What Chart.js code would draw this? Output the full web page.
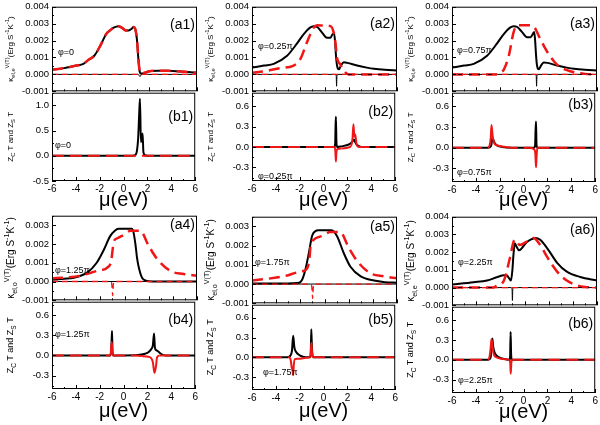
<!DOCTYPE html>
<html>
<head>
<meta charset="utf-8">
<script src="https://cdn.jsdelivr.net/npm/chart.js@4.4.0/dist/chart.umd.min.js"></script>
<style>
body { margin: 0; background: #fff; }
#fig { position: relative; width: 600px; height: 425px; overflow: hidden; }
#fig canvas { position: absolute; }
</style>
</head>
<body>
<div id="fig"></div>
<script>
// ---- ticks ----
const xTicks = [-6, -4, -2, 0, 2, 4, 6];
const kTicks = [-0.001, 0, 0.001, 0.002, 0.003, 0.004];
const kTicksShort = [-0.001, 0, 0.001, 0.002, 0.003];
const zTicks = [-0.3, 0, 0.3, 0.6];
const zTicksB1 = [-0.5, 0, 0.5, 1.0];

const zeroX = [-6, 6];
const zeroY = [0, 0];

// ---- (a) kappa panels ----
const a1X = [-6, -5, -4, -3.4, -3, -2.5, -2, -1.5, -1.2, -0.9, -0.5, -0.2, 0.1, 0.35, 0.6, 0.75, 0.88, 0.97, 1.05, 1.15, 1.25, 1.35, 1.5, 1.8, 2.2, 2.8, 3.4, 4, 5, 6];
const a1Black = [0.00027, 0.00037, 0.00052, 0.00062, 0.00085, 0.0011, 0.0017, 0.0024, 0.0026, 0.00276, 0.00285, 0.00275, 0.0026, 0.0026, 0.0027, 0.0028, 0.0027, 0.0024, 0.0019, 0.0009, 0.0002, 0.00005, 0.00006, 0.00013, 0.0002, 0.00022, 0.00021, 0.0002, 0.00015, 0.0001];
const a1Red = a1Black;
const a1ThinX = [-6, 1.1, 1.2, 1.28, 1.36, 1.45, 6];
const a1ThinY = [0, 0, -0.00005, -0.00013, -0.00005, 0, 0];

const a2BlackX = [-6, -5, -4.2, -3.1, -2.3, -1.7, -1.2, -0.9, -0.6, -0.2, 0.2, 0.5, 0.7, 0.8, 0.88, 0.95, 1.02, 1.1, 1.2, 1.35, 1.6, 1.9, 2.7, 3.5, 4.1, 5, 6];
const a2BlackY = [0.0004, 0.00052, 0.00062, 0.0011, 0.0018, 0.0024, 0.00276, 0.00285, 0.0028, 0.00247, 0.00217, 0.00217, 0.0024, 0.0024, 0.0019, 0.0011, 0.0006, 0.00035, 0.0003, 0.0005, 0.00072, 0.00068, 0.00052, 0.0004, 0.00033, 0.00027, 0.00023];
const a2RedX = [-6, -4.8, -3.7, -2.6, -2, -1.45, -0.9, -0.6, 0, 0.5, 0.75, 0.9, 1.03, 1.3, 1.6, 2.0, 6];
const a2RedY = [0.0001, 0.0002, 0.00037, 0.0005, 0.0009, 0.0019, 0.00276, 0.0029, 0.00288, 0.00285, 0.0025, 0.0019, 0.001, 0.0006, 0.00023, 0, 0];
const a2ThinX = [-6, 0.9, 0.97, 1.0, 1.03, 1.1, 6];
const a2ThinY = [0, 0, -0.0001, -0.0007, -0.0001, 0, 0];

const a3BlackX = [-6, -5, -4.2, -3.1, -2.3, -1.7, -1.2, -0.9, -0.6, -0.2, 0.2, 0.5, 0.7, 0.8, 0.88, 0.95, 1.02, 1.1, 1.2, 1.35, 1.6, 1.9, 2.7, 3.5, 4.1, 5, 6];
const a3BlackY = [0.0004, 0.00052, 0.00062, 0.0011, 0.0018, 0.0024, 0.00276, 0.00285, 0.0028, 0.0025, 0.0022, 0.0022, 0.0024, 0.0025, 0.002, 0.0012, 0.0006, 0.00035, 0.0003, 0.0005, 0.0007, 0.00068, 0.00052, 0.0004, 0.00033, 0.00027, 0.00023];
const a3RedX = [-6, -2.3, -2.0, -1.7, -1.3, -0.9, -0.6, 0, 0.5, 0.8, 1.3, 2.0, 2.8, 3.5, 4.3, 5, 6];
const a3RedY = [0, 0, 0.0001, 0.0003, 0.0011, 0.0025, 0.0029, 0.0029, 0.0029, 0.0028, 0.0021, 0.0012, 0.0005, 0.00025, 0.0001, 0.00003, 0];
const a3ThinX = [-6, 0.9, 0.97, 1.0, 1.03, 1.1, 6];
const a3ThinY = [0, 0, -0.0001, -0.0007, -0.0001, 0, 0];

const a4BlackX = [-6, -5, -4.2, -3.1, -2.3, -1.7, -1.2, -0.8, -0.5, 0, 0.6, 0.75, 0.9, 1.05, 1.2, 1.45, 1.8, 2.3, 6];
const a4BlackY = [0.00009, 0.00015, 0.0002, 0.00047, 0.001, 0.0017, 0.0024, 0.0027, 0.0028, 0.0028, 0.0028, 0.0026, 0.002, 0.0012, 0.0007, 0.0002, 0.00004, 0, 0];
const a4RedX = [-6, -3.7, -2.3, -1.3, -1.1, -1.0, -0.9, -0.6, 0, 0.5, 1.3, 2.0, 2.7, 3.8, 4.9, 6];
const a4RedY = [0.00016, 0.0003, 0.00056, 0.0008, 0.0011, 0.0016, 0.0021, 0.0023, 0.0025, 0.0027, 0.0027, 0.0019, 0.0012, 0.00056, 0.0004, 0.0003];
const a4ThinX = [-6, -1.1, -1.03, -0.98, -0.93, -0.85, 6];
const a4ThinY = [0, 0, -0.0003, -0.00075, -0.0002, 0, 0];

const a5BlackX = [-6, -3, -2.3, -2, -1.8, -1.6, -1.3, -1.03, -0.76, -0.5, 0.6, 1.03, 1.6, 2.15, 3, 4.1, 5, 6];
const a5BlackY = [0.00003, 0.00003, 0.00005, 0.0001, 0.0003, 0.0007, 0.0016, 0.0025, 0.00275, 0.0028, 0.0028, 0.0025, 0.0016, 0.0009, 0.0004, 0.00018, 0.0001, 0.00007];
const a5RedX = [-6, -3.4, -2, -1.45, -1.25, -1.15, -0.9, -0.2, 0.5, 1.3, 2, 2.7, 3.8, 4.9, 6];
const a5RedY = [0.00018, 0.0004, 0.00065, 0.0008, 0.0013, 0.002, 0.0023, 0.0025, 0.0027, 0.0027, 0.0019, 0.0012, 0.00056, 0.0004, 0.0003];
const a5ThinX = [-6, -1.1, -1.03, -0.98, -0.93, -0.85, 6];
const a5ThinY = [0, 0, -0.0003, -0.00075, -0.0002, 0, 0];

const a6BlackX = [-6, -4.2, -3.1, -2.3, -1.7, -1.45, -1.25, -1.12, -1.0, -0.92, -0.8, -0.65, -0.45, -0.25, 0.1, 0.5, 0.9, 1.3, 1.9, 2.7, 3.5, 4.6, 6];
const a6BlackY = [0.00017, 0.0003, 0.0004, 0.00058, 0.0007, 0.00068, 0.0005, 0.0004, 0.001, 0.0018, 0.0025, 0.0023, 0.0021, 0.0022, 0.0025, 0.0027, 0.0028, 0.0027, 0.0022, 0.0014, 0.0009, 0.0006, 0.0004];
const a6RedX = [-6, -2.6, -2.3, -1.7, -1.2, -0.9, -0.75, -0.4, 0.2, 0.75, 1.3, 1.9, 2.7, 3.5, 4.35, 5, 6];
const a6RedY = [0, 0, 0.0001, 0.0004, 0.0017, 0.0026, 0.0027, 0.0024, 0.0026, 0.0028, 0.0024, 0.0017, 0.0009, 0.0004, 0.00013, 0.00004, 0];
const a6ThinX = [-6, -1.1, -1.03, -1.0, -0.97, -0.9, 6];
const a6ThinY = [0, 0, -0.0001, -0.00073, -0.0001, 0, 0];

// ---- (b) ZcT / ZsT panels ----
const b1BlackX = [-6, 0.75, 1.0, 1.12, 1.22, 1.3, 1.37, 1.45, 1.52, 1.59, 1.66, 1.8, 2.0, 6];
const b1BlackY = [0, 0, 0.02, 0.1, 0.35, 0.8, 1.13, 0.27, 0.34, 0.44, 0.07, 0.01, 0, 0];
const b1RedX = [-6, 6];
const b1RedY = [0, 0];

const b2BlackX = [-6, 0.9, 0.97, 1.0, 1.03, 1.07, 1.12, 1.5, 2.0, 2.3, 2.45, 2.55, 2.65, 2.8, 3.0, 3.3, 6];
const b2BlackY = [0, 0, 0.05, 0.3, 0.445, 0.1, 0, 0.01, 0.03, 0.06, 0.09, 0.11, 0.07, 0.03, 0.01, 0, 0];
const b2RedX = [-6, 0.9, 0.98, 1.03, 1.07, 1.15, 1.5, 2.0, 2.3, 2.42, 2.5, 2.58, 2.65, 2.75, 2.85, 3.0, 6];
const b2RedY = [0, 0, -0.05, -0.215, -0.08, -0.03, -0.02, -0.01, 0.02, 0.12, 0.335, 0.15, 0.185, 0.05, 0.01, 0, 0];

const b3BlackX = [-6, -3.0, -2.8, -2.7, -2.62, -2.55, -2.4, -2.2, -1.8, -1, 0.9, 0.97, 1.0, 1.04, 1.08, 1.15, 6];
const b3BlackY = [0, 0, 0.01, 0.04, 0.14, 0.12, 0.06, 0.03, 0.01, 0, 0, 0.05, 0.25, 0.38, 0.05, 0, 0];
const b3RedX = [-6, -3.0, -2.85, -2.75, -2.69, -2.6, -2.5, -2.3, -2.0, -1.5, -1, 0.5, 0.9, 0.98, 1.04, 1.08, 1.15, 6];
const b3RedY = [0, 0, 0.03, 0.15, 0.33, 0.18, 0.08, 0.04, 0.025, 0.01, 0, 0, -0.03, -0.08, -0.285, -0.15, 0, 0];

const b4BlackX = [-6, -1.15, -1.06, -1.01, -0.97, -0.93, -0.85, 0, 1.2, 1.8, 2.1, 2.3, 2.45, 2.55, 2.62, 2.72, 2.85, 3.2, 3.5, 6];
const b4BlackY = [0, 0, 0.03, 0.2, 0.365, 0.05, 0, 0, 0.005, 0.025, 0.05, 0.09, 0.15, 0.325, 0.12, 0.08, 0.065, 0.015, 0, 0];
const b4RedX = [-6, -1.1, -1.0, -0.95, -0.9, 1.0, 1.5, 2.2, 2.45, 2.58, 2.65, 2.72, 2.8, 3.0, 6];
const b4RedY = [0, 0, 0.2, 0.1, 0, 0, -0.01, -0.025, -0.1, -0.26, -0.22, -0.15, -0.03, 0, 0];

const b5BlackX = [-6, -3.0, -2.8, -2.65, -2.55, -2.45, -2.3, -2.1, -1.8, -1.5, -1.15, -1.08, -1.03, -0.98, -0.92, -0.85, 6];
const b5BlackY = [0, 0, 0.02, 0.1, 0.325, 0.15, 0.08, 0.04, 0.01, 0, 0, 0.05, 0.425, 0.15, 0.02, 0, 0];
const b5RedX = [-6, -2.9, -2.75, -2.68, -2.6, -2.55, -2.5, -2.4, -2.2, -1.8, -1.3, -1.1, -1.03, -0.98, -0.9, 6];
const b5RedY = [0, 0, -0.05, -0.15, -0.2, -0.275, -0.12, -0.03, -0.025, -0.02, -0.005, 0, 0.22, 0.1, 0, 0];

const b6BlackX = [-6, -3.0, -2.85, -2.75, -2.62, -2.55, -2.45, -2.3, -2.1, -1.8, -1.5, -1.2, -1.13, -1.09, -1.05, -1.0, 6];
const b6BlackY = [0, 0, 0.01, 0.05, 0.32, 0.2, 0.12, 0.07, 0.04, 0.02, 0.01, 0, 0.05, 0.42, 0.1, 0, 0];
const b6RedX = [-6, -3.0, -2.85, -2.75, -2.69, -2.6, -2.5, -2.3, -2.0, -1.5, -1.2, -1.12, -1.08, -1.03, -0.95, 6];
const b6RedY = [0, 0, 0.05, 0.2, 0.31, 0.2, 0.08, 0.04, 0.02, 0.01, 0, -0.05, -0.21, -0.05, 0, 0];

// axis titles (rich text pieces: 0 normal, 1 subscript, -1 superscript)
const kappaE = [['κ', 0], ['el,e', 1], ['V(T)', -1], ['(Erg S', 0], ['-1', -1], ['K', 0], ['-1', -1], [')', 0]];
const kappaO = [['κ', 0], ['el,o', 1], ['V(T)', -1], ['(Erg S', 0], ['-1', -1], ['K', 0], ['-1', -1], [')', 0]];
const zLabel = [['Z', 0], ['C', 1], [' T and Z', 0], ['S', 1], [' T', 0]];

const FONT = '"Liberation Sans", Arial, sans-serif';
const RED = 'rgb(240,22,22)';

const panels = [
	{tag: '(a1)', col: 0, top: 6, bottom: 92, kind: 'a', yMin: -0.001, yMax: 0.004, yTicks: kTicks, red: [a1X, a1Red], black: [a1X, a1Black], thinB: [a1ThinX, a1ThinY], thinR: [zeroX, zeroY], phi: 'φ=0', phiAt: [6, 46], tagDy: 18, title: kappaE, fs: 8},
	{tag: '(b1)', col: 0, top: 92, bottom: 181, kind: 'b', yMin: -0.5, yMax: 1.25, yTicks: zTicksB1, red: [b1RedX, b1RedY], black: [b1BlackX, b1BlackY], phi: 'φ=0', phiAt: [3, 53], tagDy: 24, title: zLabel, fs: 8, muDy: 19},
	{tag: '(a2)', col: 1, top: 6, bottom: 92, kind: 'a', yMin: -0.001, yMax: 0.004, yTicks: kTicks, red: [a2RedX, a2RedY], black: [a2BlackX, a2BlackY], thinB: [a2ThinX, a2ThinY], thinR: [zeroX, zeroY], phi: 'φ=0.25π', phiAt: [6, 40], tagDy: 17, title: kappaE, fs: 8},
	{tag: '(b2)', col: 1, top: 92, bottom: 181, kind: 'b', yMin: -0.5, yMax: 0.8, yTicks: zTicks, red: [b2RedX, b2RedY], black: [b2BlackX, b2BlackY], phi: 'φ=0.25π', phiAt: [6, 84], tagDy: 19, title: zLabel, fs: 8, muDy: 19},
	{tag: '(a3)', col: 2, top: 6, bottom: 92, kind: 'a', yMin: -0.001, yMax: 0.004, yTicks: kTicks, red: [a3RedX, a3RedY], black: [a3BlackX, a3BlackY], thinB: [a3ThinX, a3ThinY], thinR: [zeroX, zeroY], phi: 'φ=0.75π', phiAt: [5, 44], tagDy: 17, title: kappaE, fs: 8},
	{tag: '(b3)', col: 2, top: 92, bottom: 182, kind: 'b', yMin: -0.5, yMax: 0.8, yTicks: zTicks, red: [b3RedX, b3RedY], black: [b3BlackX, b3BlackY], phi: 'φ=0.75π', phiAt: [5, 80], tagDy: 12, title: zLabel, fs: 8, muDy: 18},
	{tag: '(a4)', col: 0, top: 215, bottom: 301, kind: 'a', yMin: -0.001, yMax: 0.0035, yTicks: kTicksShort, red: [a4RedX, a4RedY], black: [a4BlackX, a4BlackY], thinB: [zeroX, zeroY], thinR: [a4ThinX, a4ThinY], phi: 'φ=1.25π', phiAt: [3, 55], tagDy: 9, title: kappaO, fs: 10},
	{tag: '(b4)', col: 0, top: 301, bottom: 389, kind: 'b', yMin: -0.5, yMax: 0.8, yTicks: zTicks, red: [b4RedX, b4RedY], black: [b4BlackX, b4BlackY], phi: 'φ=1.25π', phiAt: [3, 33], tagDy: 18, title: zLabel, fs: 9, muDy: 22},
	{tag: '(a5)', col: 1, top: 216, bottom: 304, kind: 'a', yMin: -0.001, yMax: 0.0035, yTicks: kTicksShort, red: [a5RedX, a5RedY], black: [a5BlackX, a5BlackY], thinB: [zeroX, zeroY], thinR: [a5ThinX, a5ThinY], phi: 'φ=1.75π', phiAt: [3, 46], tagDy: 10, title: kappaO, fs: 10},
	{tag: '(b5)', col: 1, top: 304, bottom: 390, kind: 'b', yMin: -0.5, yMax: 0.8, yTicks: zTicks, red: [b5RedX, b5RedY], black: [b5BlackX, b5BlackY], phi: 'φ=1.75π', phiAt: [11, 68], tagDy: 15, title: zLabel, fs: 9, muDy: 21},
	{tag: '(a6)', col: 2, top: 216, bottom: 306, kind: 'a', yMin: -0.001, yMax: 0.004, yTicks: kTicks, red: [a6RedX, a6RedY], black: [a6BlackX, a6BlackY], thinB: [a6ThinX, a6ThinY], thinR: [zeroX, zeroY], phi: 'φ=2.25π', phiAt: [6, 46], tagDy: 13, title: kappaE, fs: 10},
	{tag: '(b6)', col: 2, top: 306, bottom: 393, kind: 'b', yMin: -0.5, yMax: 0.8, yTicks: zTicks, red: [b6RedX, b6RedY], black: [b6BlackX, b6BlackY], phi: 'φ=2.25π', phiAt: [6, 74], tagDy: 17, title: zLabel, fs: 9, muDy: 19}
];

function pts(pair) {
	return pair[0].map(function (x, i) { return {x: x, y: pair[1][i]}; });
}

function drawRich(ctx, parts, cx, cy, fs) {
	ctx.save();
	ctx.translate(cx, cy);
	ctx.rotate(-Math.PI / 2);
	ctx.textAlign = 'left';
	ctx.textBaseline = 'alphabetic';
	ctx.fillStyle = '#000';
	let total = 0;
	const sizes = parts.map(function (p) {
		const s = p[1] ? fs * 0.72 : fs;
		ctx.font = s + 'px ' + FONT;
		const w = ctx.measureText(p[0]).width;
		total += w;
		return [s, w];
	});
	let x = -total / 2;
	parts.forEach(function (p, i) {
		ctx.font = sizes[i][0] + 'px ' + FONT;
		let dy = fs * 0.35;
		if (p[1] > 0) dy += fs * 0.3;
		if (p[1] < 0) dy -= fs * 0.45;
		ctx.fillText(p[0], x, dy);
		x += sizes[i][1];
	});
	ctx.restore();
}

function decorate(chart, p) {
	const ctx = chart.ctx;
	const a = chart.chartArea;
	const xs = chart.scales.x, ys = chart.scales.y;
	ctx.save();
	ctx.strokeStyle = '#000';
	ctx.lineWidth = 1;
	ctx.strokeRect(a.left + 0.5, a.top + 0.5, a.right - a.left - 1, a.bottom - a.top - 1);

	// inward ticks, bottom
	ctx.beginPath();
	for (let v = -6; v <= 6; v += 1) {
		const px = Math.round(xs.getPixelForValue(v)) + 0.5;
		const len = (v % 2 === 0) ? 4 : 2;
		ctx.moveTo(px, a.bottom);
		ctx.lineTo(px, a.bottom - len);
	}
	// inward ticks, left
	const step = p.yTicks[1] - p.yTicks[0];
	for (let k = -4; k <= 2 * p.yTicks.length + 4; k++) {
		const v = p.yTicks[0] + k * step / 2;
		if (v < p.yMin - 1e-9 || v > p.yMax + 1e-9) continue;
		const py = Math.round(ys.getPixelForValue(v)) + 0.5;
		const len = (k % 2 === 0) ? 4 : 2;
		ctx.moveTo(a.left, py);
		ctx.lineTo(a.left + len, py);
	}
	ctx.stroke();

	ctx.fillStyle = '#000';
	ctx.font = '14px ' + FONT;
	ctx.textAlign = 'right';
	ctx.textBaseline = 'middle';
	ctx.fillText(p.tag, a.right - 2, a.top + p.tagDy);

	ctx.font = '9px ' + FONT;
	ctx.textAlign = 'left';
	ctx.fillText(p.phi, a.left + p.phiAt[0], a.top + p.phiAt[1]);

	if (p.kind === 'b') {
		ctx.font = '20px ' + FONT;
		ctx.textAlign = 'center';
		ctx.fillText('μ(eV)', (a.left + a.right) / 2, a.bottom + p.muDy);
	}
	ctx.restore();
	drawRich(ctx, p.title, 10, (a.top + a.bottom) / 2, p.fs);
}

const fig = document.getElementById('fig');

panels.forEach(function (p) {
	const isB = p.kind === 'b';
	const plotH = p.bottom - p.top;
	const h = plotH + 8 + (isB ? 34 : 8);
	const cv = document.createElement('canvas');
	cv.width = 200;
	cv.height = h;
	cv.style.left = (p.col * 200) + 'px';
	cv.style.top = (p.top - 8) + 'px';
	cv.style.width = '200px';
	cv.style.height = h + 'px';
	fig.appendChild(cv);

	const datasets = [];
	if (!isB) {
		datasets.push({data: pts(p.thinR), borderColor: RED, borderWidth: 1.3, borderDash: [6, 4]});
		datasets.push({data: pts(p.thinB), borderColor: '#000', borderWidth: 1});
		datasets.push({data: pts(p.red), borderColor: RED, borderWidth: 2.5, borderDash: [11, 6]});
		datasets.push({data: pts(p.black), borderColor: '#000', borderWidth: 2});
	} else {
		datasets.push({
			data: pts(p.red), borderColor: RED, borderWidth: 2, borderDash: [12, 6],
			segment: {
				borderDash: function (c) {
					return (Math.abs(c.p0.parsed.y) > 0.02 || Math.abs(c.p1.parsed.y) > 0.02) ? [] : undefined;
				}
			}
		});
		datasets.push({data: pts(p.black), borderColor: '#000', borderWidth: 2});
	}
	datasets.forEach(function (d) {
		d.pointRadius = 0;
		d.fill = false;
		d.cubicInterpolationMode = 'monotone';
	});

	const dec = isB ? 1 : 3;
	new Chart(cv, {
		type: 'line',
		data: {datasets: datasets},
		options: {
			responsive: false,
			maintainAspectRatio: false,
			animation: false,
			events: [],
			layout: {padding: {left: 12, right: 3, top: 8, bottom: isB ? 4 : 8}},
			scales: {
				x: {
					type: 'linear', min: -6, max: 6,
					afterBuildTicks: function (s) { s.ticks = xTicks.map(function (v) { return {value: v}; }); },
					afterFit: function (s) { s.height = isB ? 30 : 0; },
					grid: {display: false, drawTicks: false},
					border: {display: false},
					ticks: {display: isB, autoSkip: false, maxRotation: 0, padding: 2, color: '#000', font: {size: 10, family: FONT},
						callback: function (v) { return String(v); }}
				},
				y: {
					type: 'linear', min: p.yMin, max: p.yMax,
					afterBuildTicks: function (s) { s.ticks = p.yTicks.map(function (v) { return {value: v}; }); },
					afterFit: function (s) { s.width = 40; },
					grid: {display: false, drawTicks: false},
					border: {display: false},
					ticks: {autoSkip: false, padding: 3, color: '#000', font: {size: 9.5, family: FONT},
						callback: function (v) { return Number(v).toFixed(dec); }}
				}
			},
			plugins: {legend: {display: false}, tooltip: {enabled: false}}
		},
		plugins: [{id: 'deco', afterDraw: function (chart) { decorate(chart, p); }}]
	});
});
</script>
</body>
</html>
